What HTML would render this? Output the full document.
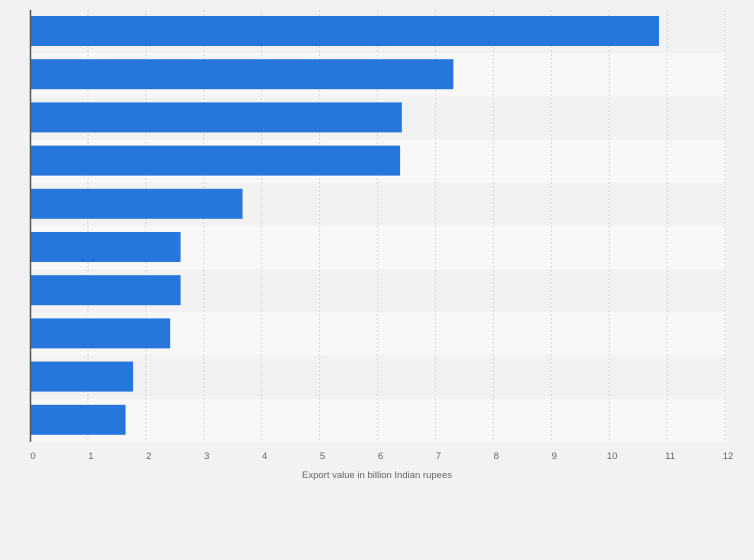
<!DOCTYPE html>
<html><head><meta charset="utf-8"><style>
body{margin:0;background:#f2f2f2;font-family:"Liberation Sans",sans-serif;}
svg{display:block}
</style></head><body>
<svg id="c" width="754" height="560">
<rect width="754" height="560" fill="#f2f2f2"/>
<g id="bands"></g><g id="grid"></g><g id="bars"></g><g id="ticks"></g>
<line x1="30.5" y1="10" x2="30.5" y2="442" stroke="#555" stroke-width="1.5"/>
<text x="377" y="478" text-anchor="middle" font-size="9.5" fill="#666">Export value in billion Indian rupees</text>
</svg>
<script>
const values=[10.86,7.31,6.42,6.39,3.67,2.6,2.6,2.42,1.78,1.65];
const tickLabels=["0","1","2","3","4","5","6","7","8","9","10","11","12"];
const NS="http://www.w3.org/2000/svg";
const x0=30,x1=725,xMax=12,top0=10,bandH=43.2;
const xs=v=>x0+v/xMax*(x1-x0);
function mk(t,a,p){const e=document.createElementNS(NS,t);for(const k in a)e.setAttribute(k,a[k]);document.getElementById(p).appendChild(e);return e;}
values.forEach((v,i)=>{
  const b=mk('rect',{x:x0,y:top0+i*bandH,width:x1-x0,height:bandH,fill:i%2?'#f8f8f8':'#f2f2f2'},'bands');
  
  
  const r=mk('rect',{x:x0,y:top0+i*bandH+6,width:xs(v)-x0,height:30,fill:'#2776dc'},'bars');
  
  
});
tickLabels.forEach((t,i)=>{
  const x=xs(+t);
  if(i>0){const g=mk('line',{x1:x,x2:x,y1:top0,y2:top0+values.length*bandH,stroke:'#d8d8d8','stroke-dasharray':'2,2'},'grid');
  
  }
  const tx=mk('text',{x:x+3,y:459,'text-anchor':'middle','font-size':'9.5',fill:'#666'},'ticks');
  tx.textContent=t;
  
  
});
</script>
</body></html>
